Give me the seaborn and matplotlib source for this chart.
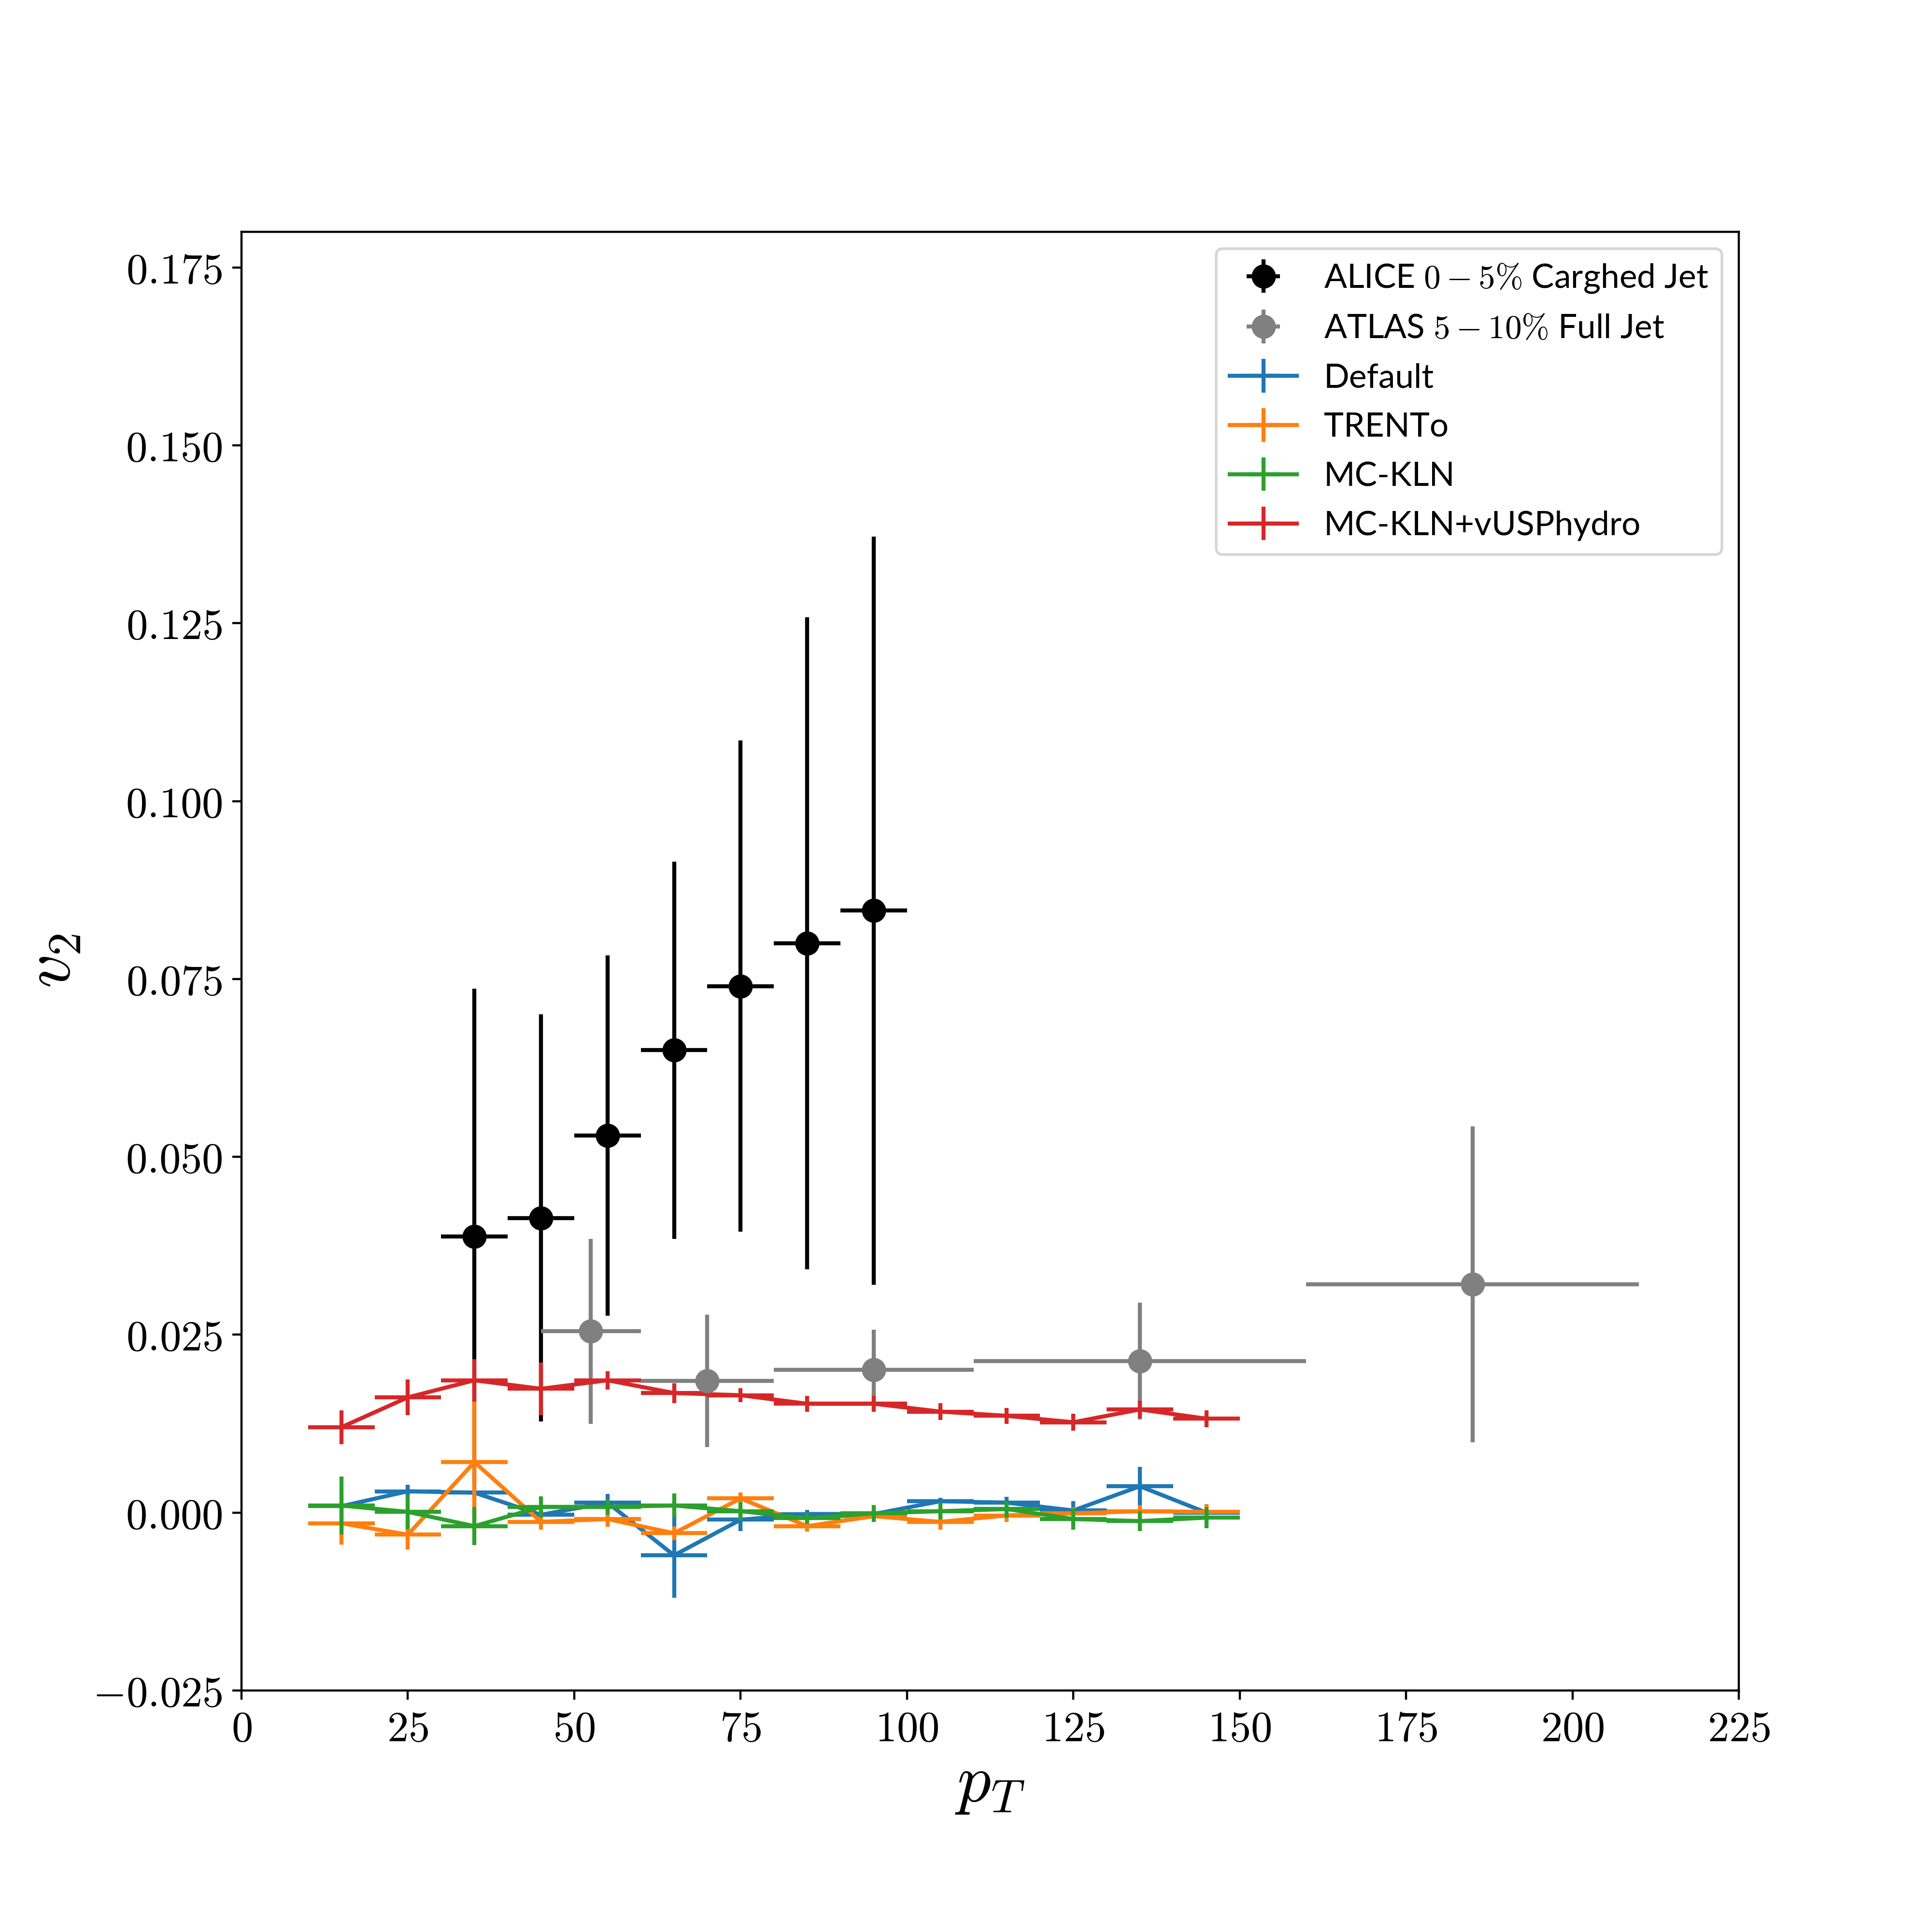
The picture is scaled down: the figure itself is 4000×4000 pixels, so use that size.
import numpy as np
import seaborn as sns
import matplotlib.pyplot as plt
from matplotlib.ticker import FixedLocator, FixedFormatter

plt.rcParams['mathtext.fontset'] = 'cm'
plt.rcParams['font.family'] = ['Lato', 'DejaVu Sans']

# ALICE 0-5% charged jet
pt_alice = [35, 45, 55, 65, 75, 85, 95]
pt_alice_err = [5, 5, 5, 5, 5, 5, 5]
v2_alice = [0.0388, 0.0414, 0.0530, 0.0650, 0.0740, 0.0800, 0.0846]
v2_alice_err = [0.0348, 0.0286, 0.0253, 0.0265, 0.0345, 0.0458, 0.0526]

# ATLAS 5-10% full jet
pt_atlas = [52.5, 70, 95, 135, 185]
pt_atlas_err = [7.5, 10, 15, 25, 25]
v2_atlas = [0.0255, 0.0185, 0.0201, 0.0213, 0.0321]
v2_atlas_err = [0.0130, 0.0093, 0.0056, 0.0082, 0.0222]

# modelos
pt_model = [15, 25, 35, 45, 55, 65, 75, 85, 95, 105, 115, 125, 135, 145]
pt_model_err = 5
v2_default = [0.0009, 0.0030, 0.0028, -0.0003, 0.0014, -0.0060, -0.0010,
              -0.0002, -0.0002, 0.0016, 0.0014, 0.0003, 0.0037, 0.0000]
err_default = [0.0005, 0.0009, 0.0010, 0.0006, 0.0012, 0.0060, 0.0016,
               0.0006, 0.0006, 0.0005, 0.0008, 0.0013, 0.0027, 0.0005]
v2_trento = [-0.0015, -0.0031, 0.0071, -0.0013, -0.0009, -0.0029, 0.0020,
             -0.0019, -0.0005, -0.0013, -0.0004, -0.0001, 0.0002, 0.0001]
err_trento = [0.0030, 0.0021, 0.0085, 0.0011, 0.0011, 0.0010, 0.0008,
              0.0008, 0.0008, 0.0011, 0.0009, 0.0008, 0.0009, 0.0011]
v2_mckln = [0.0010, 0.0001, -0.0019, 0.0008, 0.0008, 0.0010, 0.0002,
            -0.0008, -0.0001, 0.0002, 0.0005, -0.0009, -0.0012, -0.0007]
err_mckln = [0.0041, 0.0024, 0.0027, 0.0015, 0.0011, 0.0017, 0.0013,
             0.0008, 0.0012, 0.0012, 0.0012, 0.0015, 0.0014, 0.0015]
v2_vusp = [0.0120, 0.0162, 0.0186, 0.0174, 0.0186, 0.0168, 0.0165,
           0.0153, 0.0153, 0.0142, 0.0136, 0.0127, 0.0145, 0.0132]
err_vusp = [0.0024, 0.0025, 0.0030, 0.0037, 0.0013, 0.0014, 0.0010,
            0.0011, 0.0011, 0.0012, 0.0011, 0.0012, 0.0012, 0.0012]

model_names = ['Default', 'TRENTo', 'MC-KLN', 'MC-KLN+vUSPhydro']
model_v2 = [v2_default, v2_trento, v2_mckln, v2_vusp]
model_err = [err_default, err_trento, err_mckln, err_vusp]
colores = sns.color_palette('tab10', 4)

x_ticks = [0, 25, 50, 75, 100, 125, 150, 175, 200, 225]
y_ticks = [-0.025, 0.0, 0.025, 0.05, 0.075, 0.1, 0.125, 0.15, 0.175]

fig, ax = plt.subplots(figsize=(10, 10))
fig.subplots_adjust(left=0.125, right=0.9, bottom=0.125, top=0.88)

handles = []
eb = ax.errorbar(pt_alice, v2_alice, xerr=pt_alice_err, yerr=v2_alice_err,
                 fmt='o', color='k', markersize=8, elinewidth=1.5)
handles.append((eb, r'ALICE $0-5\%$ Carghed Jet'))
eb = ax.errorbar(pt_atlas, v2_atlas, xerr=pt_atlas_err, yerr=v2_atlas_err,
                 fmt='o', color='gray', markersize=8, elinewidth=1.5)
handles.append((eb, r'ATLAS $5-10\%$ Full Jet'))

for name, vals, errs, c in zip(model_names, model_v2, model_err, colores):
    sns.lineplot(x=pt_model, y=vals, color=c, linewidth=1.5, ax=ax, legend=False)
    line = ax.get_lines()[-1]
    eb = ax.errorbar(pt_model, vals, xerr=pt_model_err, yerr=errs,
                     fmt='none', ecolor=c, elinewidth=1.5)
    handles.append(((line, eb), name))

ax.set_xlim(0, 225)
ax.set_ylim(-0.025, 0.18)
ax.xaxis.set_major_locator(FixedLocator(x_ticks))
ax.xaxis.set_major_formatter(FixedFormatter([f'${t}$' for t in x_ticks]))
ax.yaxis.set_major_locator(FixedLocator(y_ticks))
ax.yaxis.set_major_formatter(FixedFormatter([f'${t:.3f}$' for t in y_ticks]))
ax.tick_params(labelsize=16)

ax.set_xlabel(r'$p_T$', fontsize=25, labelpad=2)
ax.set_ylabel(r'$v_2$', fontsize=25)

ax.legend([h for h, _ in handles], [l for _, l in handles],
          loc='upper right', fontsize=12.5, labelspacing=0.56)

fig.savefig('out.png', dpi=400)
